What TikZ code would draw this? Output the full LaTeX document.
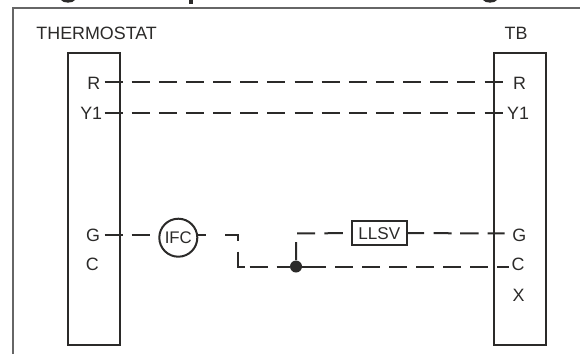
\documentclass[tikz,border=0pt]{standalone}
\usepackage{fontspec}
\setmainfont{Liberation Sans}
\definecolor{ink}{HTML}{2B2A29}
\definecolor{frameline}{HTML}{666666}
\tikzset{x=0.75pt,y=-0.75pt,
  block/.style={draw=ink,line width=1.5pt,inner sep=0pt,anchor=north west,minimum width=39.3pt,minimum height=219.7pt},
  lbl/.style={inner sep=0pt,font=\fontsize{13.4pt}{15pt}\selectfont,text=ink},
  wire/.style={draw=ink,line width=1.5pt,dash pattern=on 13.5pt off 6.86pt},
  partwire/.style={draw=ink,line width=1.5pt}}
\begin{document}
\begin{tikzpicture}
\useasboundingbox (0,0) rectangle (580,354);
\draw[frameline,line width=1.5pt] (13,354) -- (13,7.8) -- (580,7.8);
\fill[ink] (61,0) .. controls (63,3.5) and (73,3.5) .. (75,0) -- cycle;
\fill[ink] (189,0) rectangle (193,3.6);
\fill[ink] (483,0) .. controls (485,3.5) and (495,3.5) .. (497,0) -- cycle;
\node[lbl,anchor=base west] (th) at (36.2,39) {THERMOSTAT};
\node[lbl,anchor=base] (tb) at (516,39) {TB};
\node[block] (L) at (66.5,51.5) {};
\node[block] (Rb) at (492.5,51.5) {};
\node[lbl] (lr) at (93.7,83.5) {R};
\node[lbl] (ly) at (91.2,113.8) {Y1};
\node[lbl] (lg) at (93,235.7) {G};
\node[lbl] (lc) at (92.2,264.8) {C};
\node[lbl] (rr) at (519.5,83.5) {R};
\node[lbl] (ry) at (518,113.8) {Y1};
\node[lbl] (rg) at (519.3,235.5) {G};
\node[lbl] (rc) at (518,264.8) {C};
\node[lbl] (rx) at (518.5,295) {X};
\node[circle,draw=ink,line width=1.5pt,minimum size=28.5pt,inner sep=0pt,lbl,font=\fontsize{12.6pt}{15pt}\selectfont] (ifc) at (178.3,237.7) {IFC};
\node[draw=ink,line width=1.5pt,inner sep=0pt,minimum width=41.5pt,minimum height=18pt,lbl,font=\fontsize{12.8pt}{15pt}\selectfont] (llsv) at (379.3,233.2) {LLSV};
\node[circle,fill=ink,inner sep=0pt,minimum size=9pt] (dot) at (296,266.5) {};
\coordinate (lR) at (104.5,82);
\coordinate (rR) at (503,82);
\coordinate (lY) at (104.5,113.3);
\coordinate (rY) at (503,113.3);
\coordinate (lG) at (104.5,235.3);
\coordinate (bendA) at (238,235.3);
\coordinate (bendB) at (238,266.5);
\coordinate (bendC) at (296,233.3);
\coordinate (rG) at (504.5,233.3);
\coordinate (rC) at (509,266.5);
\draw[wire] (lR) -- (rR);
\draw[wire] (lY) -- (rY);
\draw[wire] (lG) -- (ifc.west |- lG);
\draw[partwire,dash pattern=on 6pt off 14.25pt on 13.5pt off 8.25pt on 16.05pt off 3.75pt on 13.5pt off 6.75pt on 30pt] (ifc.east |- lG) -- (bendA) -- (bendB) -- (dot);
\draw[partwire,dash pattern=on 13.5pt off 7.5pt on 13.5pt off 7pt on 13.8pt off 6.2pt on 10pt] (dot) -- (bendC) -- (llsv.west);
\draw[partwire,dash pattern=on 12.2pt off 7pt on 13.5pt off 6.5pt on 13.8pt off 6.8pt on 13.2pt] (llsv.east) -- (rG);
\draw[partwire,dash pattern=on 18pt off 6.75pt on 13.5pt off 6.75pt on 13.5pt off 6.75pt on 13.5pt off 6.75pt on 13.5pt off 6.75pt on 13.5pt off 6.75pt on 13.5pt off 6.75pt on 13.5pt off 6.75pt on 13.5pt] (dot) -- (rC);
\end{tikzpicture}
\end{document}
